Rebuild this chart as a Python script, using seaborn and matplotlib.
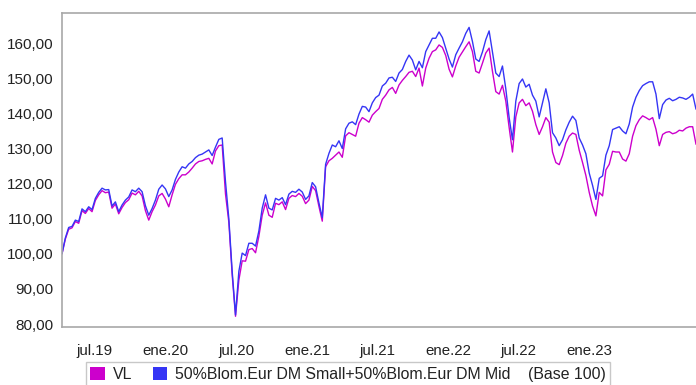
import pandas as pd
import matplotlib
matplotlib.use("Agg")
import matplotlib.pyplot as plt
from matplotlib.ticker import FuncFormatter, MultipleLocator
import seaborn as sns

# Base-100 performance, sampled every ~8.6 days
start_date = "2019-01-02"
end_date = "2023-06-30"

fund_vl = [
    100.0, 104.2, 107.0, 107.4, 109.2, 108.7, 112.3, 111.5, 112.9, 112.0,
    115.2, 116.8, 118.0, 117.4, 117.6, 113.0, 114.2, 111.4, 113.2, 114.6,
    115.4, 117.3, 116.8, 117.8, 116.5, 112.3, 109.6, 112.0, 113.9, 116.5,
    117.2, 115.6, 113.4, 116.8, 119.8, 121.4, 122.5, 122.5, 123.3, 124.4,
    125.6, 126.3, 126.5, 126.9, 127.2, 125.6, 129.3, 130.8, 131.0, 117.0,
    109.0, 94.0, 82.2, 92.5, 98.0, 97.9, 101.2, 101.5, 100.3, 105.0,
    111.0, 114.5, 111.0, 110.4, 114.4, 114.0, 114.8, 112.6, 115.8, 116.6,
    116.3, 117.2, 116.4, 114.3, 115.3, 119.2, 118.0, 113.5, 109.3, 124.8,
    126.5, 127.2, 128.1, 129.0, 127.5, 133.6, 134.5, 134.0, 133.5, 137.2,
    138.8, 138.2, 137.5, 139.5, 140.5, 141.4, 144.0, 145.2, 146.7, 147.4,
    145.7, 148.1, 149.4, 150.5, 151.7, 152.0, 150.5, 152.9, 147.8, 152.9,
    155.7, 157.6, 158.1, 159.5, 158.8, 156.5, 152.6, 150.4, 153.5, 156.0,
    157.5, 159.0, 160.4, 157.6, 152.0, 151.5, 154.3, 157.2, 158.6, 152.0,
    146.2, 145.5, 148.0, 143.5, 136.0, 129.0, 139.0, 143.0, 144.0, 142.2,
    143.0, 140.6, 136.8, 134.0, 136.2, 138.8, 137.5, 129.0, 126.0, 125.4,
    128.0, 131.5, 133.5, 134.4, 134.0, 129.5, 126.0, 122.3, 117.5, 113.6,
    110.8, 117.5, 116.5, 123.9, 125.5, 129.2, 129.0, 129.0, 127.0, 126.4,
    128.5, 133.5, 136.5, 138.2, 139.3, 138.8, 138.2, 138.8, 135.5, 130.8,
    134.0, 134.6, 134.8, 134.2, 134.5, 135.2, 135.0, 135.8, 136.2, 136.2,
    131.2,
]

benchmark = [
    100.0, 104.5, 107.5, 107.8, 109.6, 109.2, 112.8, 112.0, 113.4, 112.6,
    115.8, 117.5, 118.7, 118.2, 118.3, 113.6, 114.8, 112.0, 113.9, 115.3,
    116.2, 118.2, 117.7, 118.7, 117.7, 113.7, 111.0, 112.9, 115.3, 118.4,
    119.6, 118.5, 116.3, 118.2, 121.2, 123.3, 124.8, 124.4, 125.6, 126.3,
    127.4, 128.1, 128.4, 129.0, 129.6, 128.0, 130.4, 132.6, 133.0, 120.5,
    110.0, 95.0, 82.6, 95.0, 100.2, 99.5, 103.0, 103.0, 102.2, 106.5,
    113.0, 116.8, 113.0, 112.5, 115.8, 115.3, 116.0, 114.0, 117.0, 117.8,
    117.5, 118.4, 117.6, 115.5, 116.5, 120.3, 119.1, 114.5, 110.3, 125.5,
    128.6, 131.0, 130.5, 132.2, 130.0, 135.6, 137.2, 137.6, 136.8, 139.8,
    142.0, 141.8, 140.5, 143.0, 144.5, 145.2, 147.8, 148.6, 150.1, 150.3,
    149.1, 151.5, 152.5, 154.8, 156.6, 155.2, 152.4, 154.8, 153.0, 157.6,
    159.5, 161.4, 161.4, 163.2, 161.6, 158.6, 155.5, 153.2, 156.7, 158.6,
    160.4, 162.8, 164.5, 160.5, 155.5, 154.8, 157.5, 161.0, 163.5, 157.5,
    151.5, 150.5, 153.5, 147.0, 138.8, 132.5, 143.5, 148.5, 149.8, 147.5,
    148.3, 145.2, 143.5, 139.0, 143.0, 147.0, 143.0, 134.5, 133.0, 130.8,
    132.5, 135.3, 137.5, 139.2, 138.0, 133.0, 131.0, 128.5, 123.0, 119.5,
    115.5, 121.5, 122.2, 128.1, 130.8, 135.4, 135.8, 136.2, 135.0, 134.2,
    137.0, 141.8, 144.6, 146.5, 147.9, 148.5, 149.0, 149.0, 145.5, 138.5,
    142.5, 143.8, 144.3, 143.6, 144.0, 144.6, 144.4, 144.0, 144.6, 145.5,
    141.2,
]

series_names = ["VL", "50%Blom.Eur DM Small+50%Blom.Eur DM Mid"]
series_colors = ["#cc00cc", "#3535f5"]
base_note = "(Base 100)"

tick_dates = ["2019-07-01", "2020-01-01", "2020-07-01", "2021-01-01",
              "2021-07-01", "2022-01-01", "2022-07-01", "2023-01-01"]
tick_labels = ["jul.19", "ene.20", "jul.20", "ene.21",
               "jul.21", "ene.22", "jul.22", "ene.23"]

dates = pd.date_range(start_date, end_date, periods=len(fund_vl))
df = pd.concat([
    pd.DataFrame({"fecha": dates, "valor": fund_vl, "serie": series_names[0]}),
    pd.DataFrame({"fecha": dates, "valor": benchmark, "serie": series_names[1]}),
])

sns.set_style("white")
plt.rcParams["font.family"] = ["Liberation Sans", "DejaVu Sans"]

fig = plt.figure(figsize=(6.96, 3.85), dpi=100)
ax = fig.add_axes([62 / 696, 1 - 327 / 385, 1 - 62 / 696, (327 - 13) / 385])

sns.lineplot(data=df, x="fecha", y="valor", hue="serie",
             palette=dict(zip(series_names, series_colors)),
             linewidth=1.0, ax=ax, legend=False)

ax.set_xlim(pd.Timestamp(start_date), pd.Timestamp(end_date))
ax.set_ylim(79.15, 168.6)
ax.yaxis.set_major_locator(MultipleLocator(10))
ax.yaxis.set_major_formatter(FuncFormatter(lambda v, _: f"{v:.2f}".replace(".", ",")))

# each period label is centred in the half-year that ends on its date
label_offset = pd.Timedelta(days=96)
ax.set_xticks(pd.to_datetime(tick_dates) - label_offset)
ax.set_xticklabels(tick_labels)

ax.set_xlabel("")
ax.set_ylabel("")
ax.tick_params(axis="y", length=3, width=0.8, color="#999999", pad=3,
               labelsize=11, labelcolor="#222222")
ax.tick_params(axis="x", length=0, pad=12, labelsize=10.8, labelcolor="#222222")

for side in ["left", "top", "bottom"]:
    ax.spines[side].set_color("#a8a8a8")
    ax.spines[side].set_linewidth(1.2)
ax.spines["right"].set_visible(False)

handles = [plt.Rectangle((0, 0), 1, 1, facecolor=c, edgecolor="none") for c in series_colors]
labels = [series_names[0], f"{series_names[1]}    {base_note}"]
leg = fig.legend(handles, labels, loc="center",
                 bbox_to_anchor=(0.5, 0.028), ncol=2, frameon=True, fancybox=False,
                 fontsize=11.4, handlelength=0.9, handleheight=0.9, handletextpad=0.5,
                 columnspacing=1.3, borderpad=0.3, borderaxespad=0)
leg.get_frame().set_edgecolor("#bbbbbb")
leg.get_frame().set_linewidth(1.0)
for t in leg.get_texts():
    t.set_color("#222222")

fig.savefig("out.png", dpi=100)
